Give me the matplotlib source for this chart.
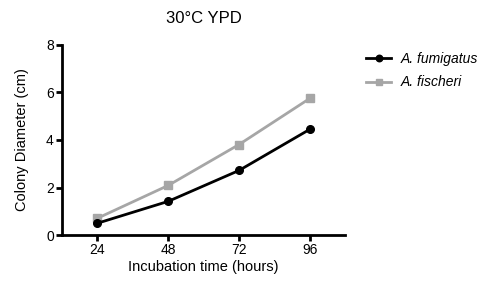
import matplotlib
matplotlib.use("Agg")
import matplotlib.pyplot as plt

hours = [24, 48, 72, 96]
fumigatus = [0.50, 1.42, 2.72, 4.45]
fischeri = [0.71, 2.09, 3.81, 5.75]
series_names = ["A. fumigatus", "A. fischeri"]
yticks = [0, 2, 4, 6, 8]

plt.rcParams['font.family'] = ['Liberation Sans', 'DejaVu Sans']

fig = plt.figure(figsize=(4.89, 2.86), dpi=100)
ax = fig.add_axes([0.127, 0.178, 0.579, 0.665])

ax.plot(hours, fumigatus, color='black', marker='o', markersize=5.5, lw=2, label=series_names[0], zorder=3)
ax.plot(hours, fischeri, color='#a6a6a6', marker='s', markersize=5.5, lw=2, label=series_names[1], zorder=2)

ax.set_xlim(12, 108)
ax.set_ylim(0, 8)
ax.set_xticks(hours)
ax.set_yticks(yticks)
for s in ['top', 'right']:
    ax.spines[s].set_visible(False)
for s in ['left', 'bottom']:
    ax.spines[s].set_linewidth(2)
ax.tick_params(width=2, length=4, labelsize=10, pad=2)
ax.set_xlabel("Incubation time (hours)", fontsize=10.5, labelpad=2)
ax.set_ylabel("Colony Diameter (cm)", fontsize=10.5, labelpad=12)
ax.set_title("30°C YPD", fontsize=12, pad=16)

leg = ax.legend(loc='upper left', bbox_to_anchor=(1.055, 0.99), frameon=False,
                prop={'style': 'italic', 'size': 10}, handlelength=1.75,
                labelspacing=0.65, handletextpad=0.75, borderaxespad=0,
                markerscale=0.85)

fig.savefig("out.png", dpi=100)
